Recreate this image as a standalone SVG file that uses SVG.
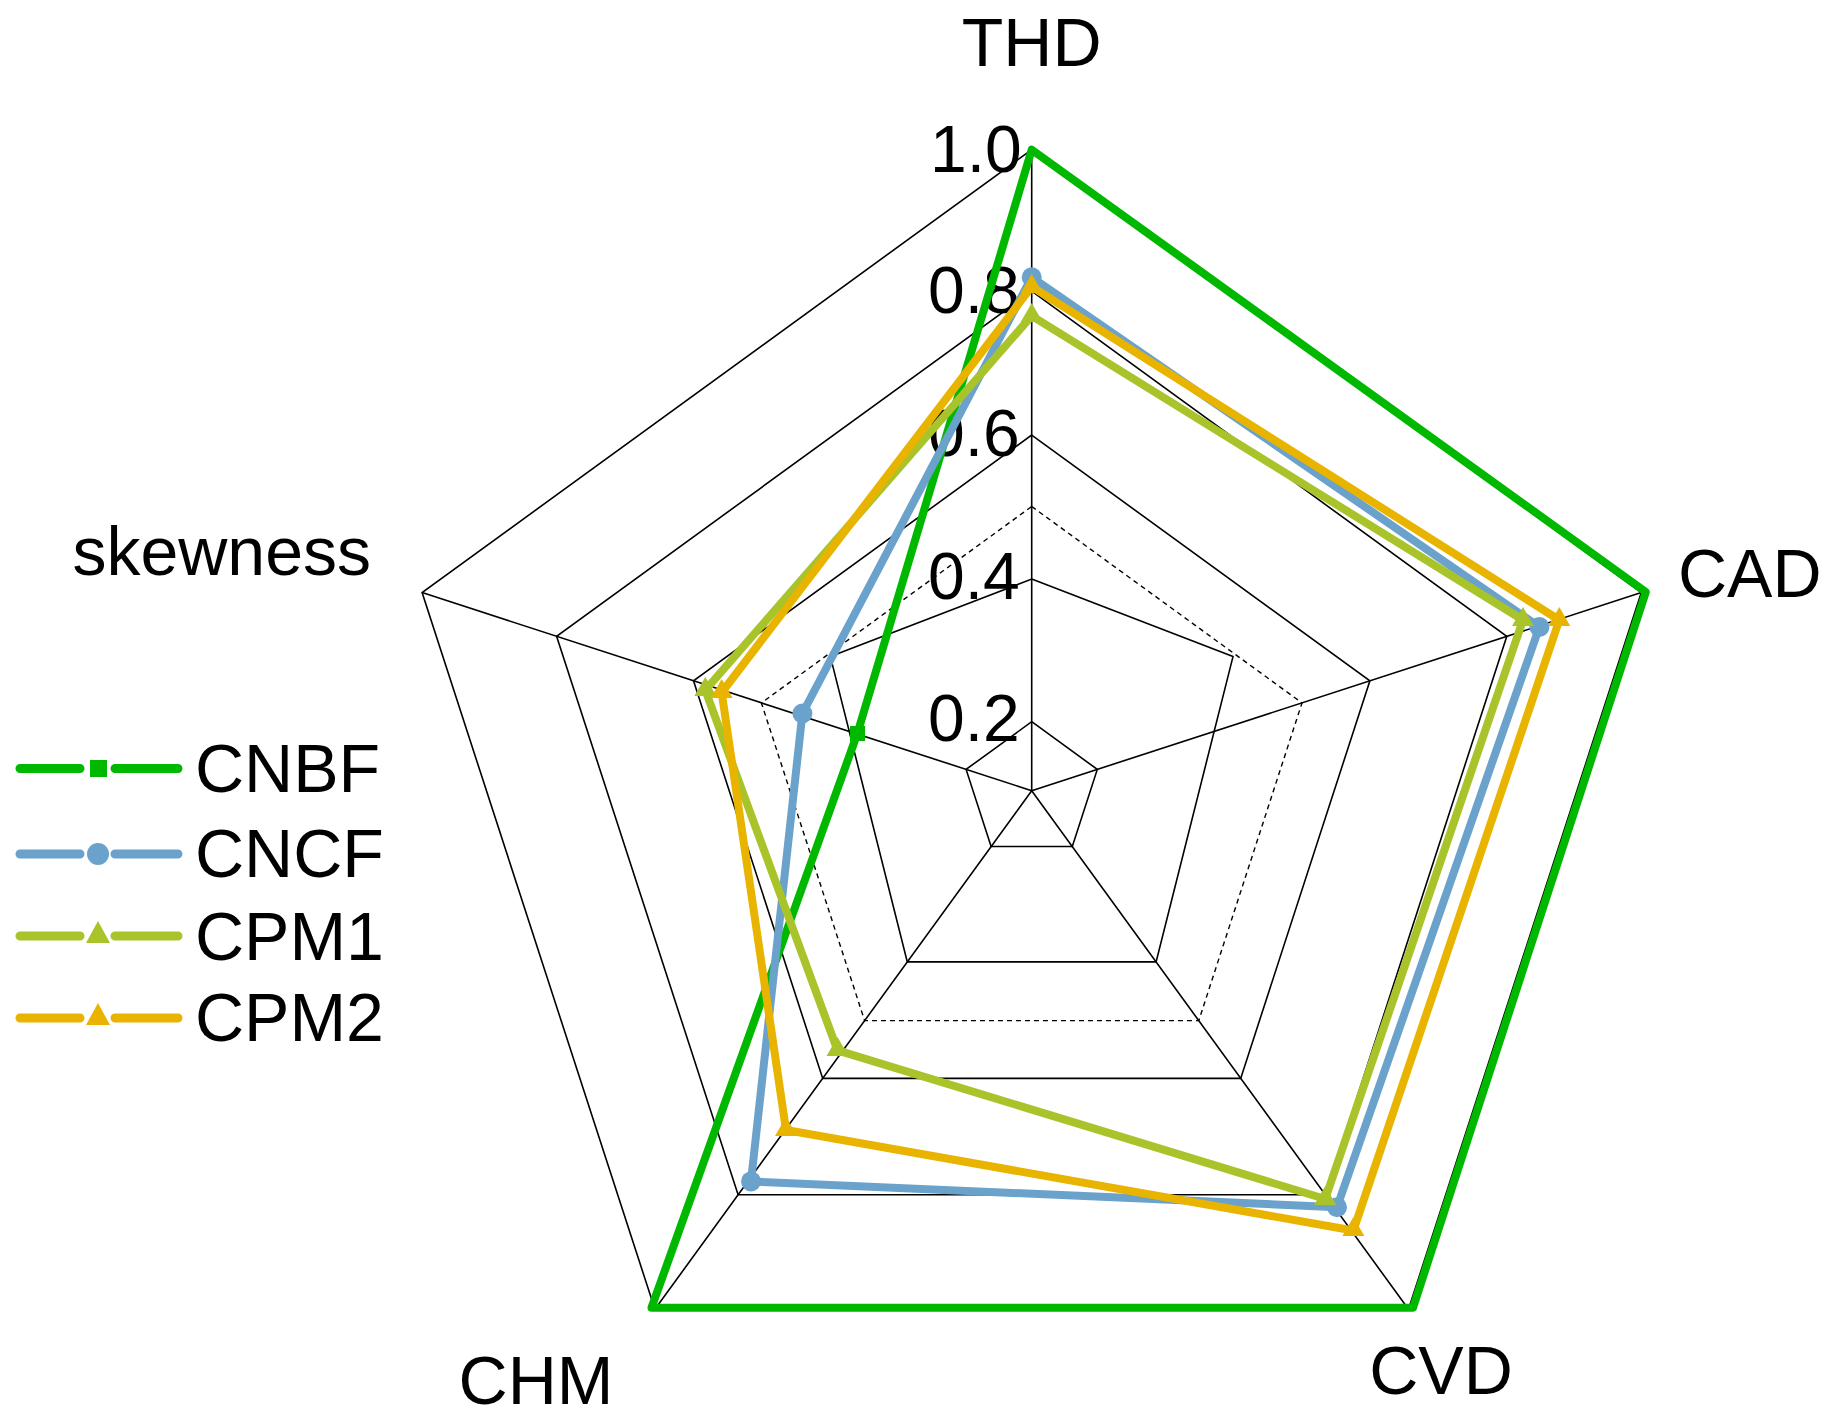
<svg xmlns="http://www.w3.org/2000/svg" width="1834" height="1418" viewBox="0 0 1834 1418">
<style>
.g{fill:none;stroke:#000;stroke-width:1.6}
.d{fill:none;stroke:#000;stroke-width:1.4;stroke-dasharray:5,4}
.t{font-family:"Liberation Sans",Arial,sans-serif;font-size:66px;fill:#000}
.s{fill:none;stroke-width:8;stroke-linejoin:round;stroke-linecap:round}
</style>
<rect width="1834" height="1418" fill="#fff"/>
<g id="grid">
<polygon class="g" points="1031.7,721.7 1097.3,769.4 1072.3,846.5 991.1,846.5 966.1,769.4"/>
<polygon class="g" points="1031.7,579 1233,656.6 1156.1,961.9 907.3,961.9 830.4,656.6"/>
<polygon class="d" points="1031.7,506.5 1302,702.9 1198.8,1020.6 864.6,1020.6 761.4,702.9"/>
<polygon class="g" points="1031.7,435.1 1369.9,680.8 1240.7,1078.4 822.7,1078.4 693.5,680.8"/>
<polygon class="g" points="1031.7,291.2 1506.8,636.3 1325.3,1194.8 738.1,1194.8 556.6,636.3"/>
<polygon class="g" points="1031.7,149.7 1641.3,592.6 1408.5,1309.3 654.9,1309.3 422.1,592.6"/>
<path class="g" d="M1031.7,790.7L1031.7,149.7M1031.7,790.7L1641.3,592.6M1031.7,790.7L1408.5,1309.3M1031.7,790.7L654.9,1309.3M1031.7,790.7L422.1,592.6"/>
</g>
<g id="ticks" class="t">
<text x="930" y="172">1.0</text>
<text x="928" y="313">0.8</text>
<text x="928" y="456">0.6</text>
<text x="928" y="599">0.4</text>
<text x="928" y="741">0.2</text>
</g>
<g id="axis-labels" class="t" font-size="68">
<text x="1031.7" y="66" text-anchor="middle" font-size="68">THD</text>
<text x="1678" y="597" font-size="68">CAD</text>
<text x="1441" y="1394" text-anchor="middle" font-size="68">CVD</text>
<text x="536" y="1404" text-anchor="middle" font-size="68">CHM</text>
<text x="371" y="575" text-anchor="end" font-size="68">skewness</text>
</g>
<g id="series">
<g id="CNBF">
<polygon class="s" stroke="#00b800" stroke-width="6" points="1031.7,149.7 1645.8,591.9 1413,1307.7 651.5,1307.7 857.4,733.4"/>
<rect x="850" y="726" width="15" height="15" fill="#00b800"/>
</g>
<g id="CNCF" fill="#6aa2cc">
<polygon class="s" stroke="#6aa2cc" points="1031.7,277.2 1539.4,627 1337,1207.2 751,1181.4 802.4,713.5"/>
<circle cx="1031.7" cy="277.2" r="10"/><circle cx="1539.4" cy="627" r="10"/><circle cx="1337" cy="1207.2" r="10"/><circle cx="751" cy="1181.4" r="10"/><circle cx="802.4" cy="713.5" r="10"/>
</g>
<g id="CPM1" fill="#a8c42a">
<polygon class="s" stroke="#a8c42a" points="1031.7,315.8 1523,620 1325.2,1199 837.5,1050.4 705.3,690.1"/>
<path d="M1031.7,303l11,19h-22zM1523,607l11,19h-22zM1325.2,1186l11,19h-22zM837.5,1037l11,19h-22zM705.3,677l11,19h-22z"/>
</g>
<g id="CPM2" fill="#e8b400">
<polygon class="s" stroke="#e8b400" points="1031.7,286.6 1559.3,620 1353.4,1230.5 786,1130 721.7,692.5"/>
<path d="M1031.7,274l11,19h-22zM1559.3,607l11,19h-22zM1353.4,1217l11,19h-22zM786,1117l11,19h-22zM721.7,679l11,19h-22z"/>
</g>
</g>
<g id="legend" class="t">
<path d="M20,768.5H80M115,768.5H178" stroke="#00b800" stroke-width="9" stroke-linecap="round"/>
<rect x="90" y="760" width="17" height="17" fill="#00b800"/>
<text x="195" y="792" font-size="68">CNBF</text>
<path d="M20,854H80M115,854H178" stroke="#6aa2cc" stroke-width="9" stroke-linecap="round"/>
<circle cx="98" cy="854" r="11" fill="#6aa2cc"/>
<text x="195" y="877" font-size="68">CNCF</text>
<path d="M20,936H80M115,936H178" stroke="#a8c42a" stroke-width="9" stroke-linecap="round"/>
<path d="M98,921l12,22h-24z" fill="#a8c42a"/>
<text x="195" y="960" font-size="68">CPM1</text>
<path d="M20,1018H80M115,1018H178" stroke="#e8b400" stroke-width="9" stroke-linecap="round"/>
<path d="M98,1003l12,22h-24z" fill="#e8b400"/>
<text x="195" y="1041" font-size="68">CPM2</text>
</g>
</svg>
